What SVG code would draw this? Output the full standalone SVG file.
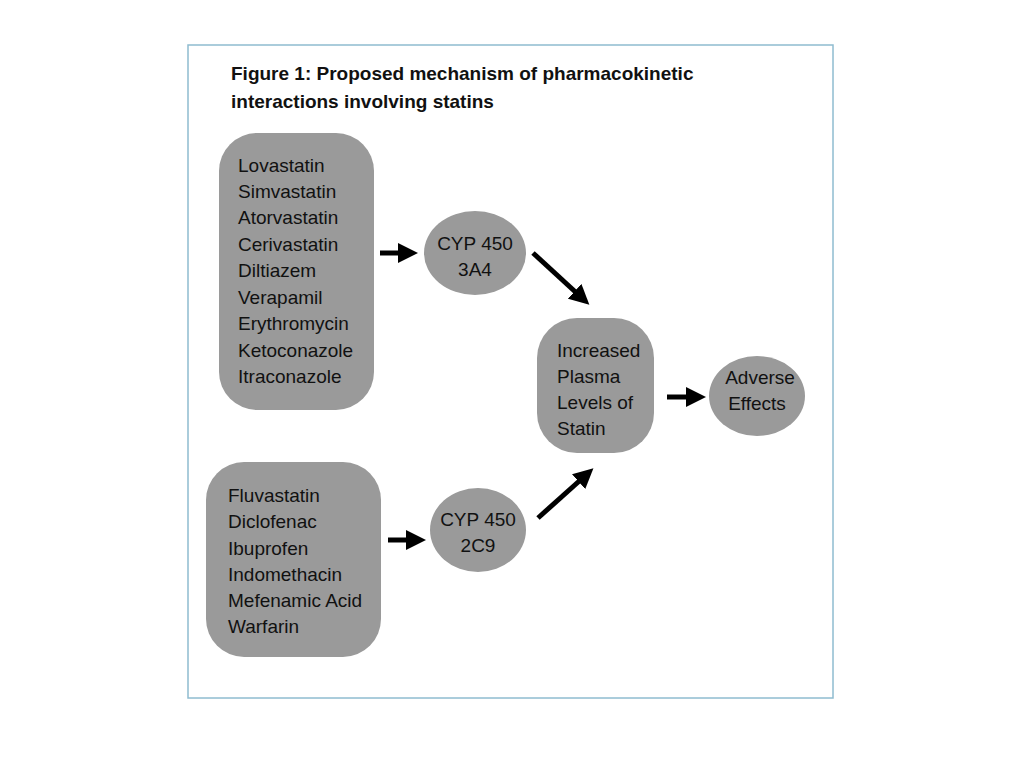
<svg xmlns="http://www.w3.org/2000/svg" width="1024" height="768" viewBox="0 0 1024 768">
<defs>
<style>
text{font-family:"Liberation Sans",Arial,sans-serif;font-size:19px;fill:#111}
.t{font-weight:bold;font-size:19px}
.n{fill:#9a9a9a}
.c line{stroke:#000;stroke-width:5}
</style>
<marker id="ah" markerWidth="4" markerHeight="4" refX="2" refY="2" orient="auto"><path d="M0,0L4,2L0,4z" fill="#000"/></marker>
</defs>
<rect width="1024" height="768" fill="#fff"/>
<rect x="188" y="45" width="645" height="653" fill="#fff" stroke="#8fbcd0" stroke-width="1.5"/>
<text class="t" x="231" y="80">Figure 1: Proposed mechanism of pharmacokinetic</text>
<text class="t" x="231" y="108">interactions involving statins</text>
<g id="drugs1"><rect class="n" x="219" y="133" width="155" height="277" rx="38"/>
<text x="238" y="172">Lovastatin</text><text x="238" y="198">Simvastatin</text><text x="238" y="224">Atorvastatin</text><text x="238" y="251">Cerivastatin</text><text x="238" y="277">Diltiazem</text><text x="238" y="304">Verapamil</text><text x="238" y="330">Erythromycin</text><text x="238" y="357">Ketoconazole</text><text x="238" y="383">Itraconazole</text></g>
<g id="cyp3a4"><ellipse class="n" cx="475" cy="253" rx="51" ry="42"/><text x="475" y="250" text-anchor="middle">CYP 450</text><text x="475" y="276" text-anchor="middle">3A4</text></g>
<g id="increased"><rect class="n" x="537" y="318" width="117" height="135" rx="40"/>
<text x="557" y="357">Increased</text><text x="557" y="383">Plasma</text><text x="557" y="409">Levels of</text><text x="557" y="435">Statin</text></g>
<g id="adverse"><ellipse class="n" cx="757" cy="396" rx="48" ry="40"/><text x="760" y="384" text-anchor="middle">Adverse</text><text x="757" y="410" text-anchor="middle">Effects</text></g>
<g id="drugs2"><rect class="n" x="206" y="462" width="175" height="195" rx="38"/>
<text x="228" y="502">Fluvastatin</text><text x="228" y="528">Diclofenac</text><text x="228" y="555">Ibuprofen</text><text x="228" y="581">Indomethacin</text><text x="228" y="607">Mefenamic Acid</text><text x="228" y="633">Warfarin</text></g>
<g id="cyp2c9"><ellipse class="n" cx="478" cy="530" rx="48" ry="42"/><text x="478" y="526" text-anchor="middle">CYP 450</text><text x="478" y="552" text-anchor="middle">2C9</text></g>
<g class="c" id="connectors">
<line x1="380" y1="253" x2="408" y2="253" marker-end="url(#ah)"/>
<line x1="533" y1="253" x2="582" y2="298" marker-end="url(#ah)"/>
<line x1="667" y1="397" x2="696" y2="397" marker-end="url(#ah)"/>
<line x1="388" y1="540" x2="416" y2="540" marker-end="url(#ah)"/>
<line x1="538" y1="518" x2="586" y2="475" marker-end="url(#ah)"/>
</g>
</svg>
